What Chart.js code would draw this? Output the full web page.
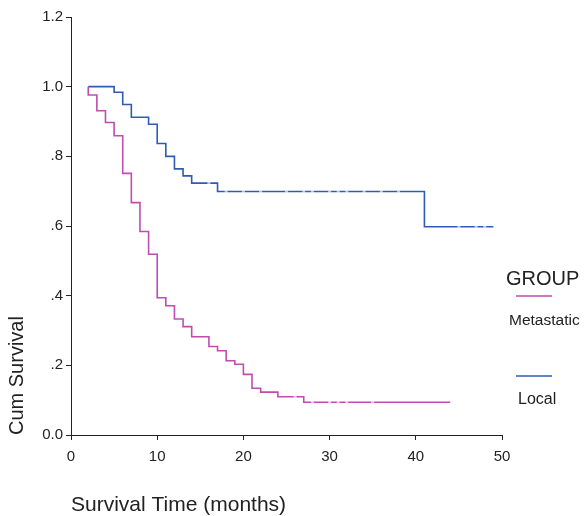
<!DOCTYPE html>
<html>
<head>
<meta charset="utf-8">
<script src="https://cdn.jsdelivr.net/npm/chart.js@4/dist/chart.umd.min.js"></script>
<style>
  html, body { margin: 0; padding: 0; background: #fff; }
  #wrap { width: 587px; height: 516px; }
</style>
</head>
<body>
<div id="wrap"><canvas id="km" width="587" height="516"></canvas></div>
<script>
// Kaplan-Meier estimates by group (time in months, cumulative survival)
const groupTitle = 'GROUP';
const groupLabels = ['Metastatic', 'Local'];
const groupColors = ['#C04DAE', '#2E5CB4'];

const metastaticTimes    = [2, 2, 3, 4, 5, 6, 7, 8, 9, 10, 11, 12, 13, 14, 16, 17, 18, 19, 20, 21, 22, 24, 27, 44];
const metastaticSurvival = [1.0, 0.976, 0.931, 0.897, 0.859, 0.751, 0.667, 0.584, 0.519, 0.394, 0.371, 0.333, 0.311, 0.282, 0.254, 0.242, 0.213, 0.203, 0.174, 0.134, 0.123, 0.110, 0.094, 0.094];
const metastaticCensored = [26, 28, 30, 31, 32, 35];

const localTimes    = [2, 5, 6, 7, 9, 10, 11, 12, 13, 14, 17, 41, 49];
const localSurvival = [1.0, 0.984, 0.949, 0.912, 0.892, 0.837, 0.800, 0.764, 0.744, 0.723, 0.699, 0.598, 0.598];
const localCensored = [16, 18, 20, 22, 25, 27, 28, 30, 31, 32, 34, 36, 38, 45, 47, 48];

const xTickValues = [0, 10, 20, 30, 40, 50];
const yTickValues = [0, 0.2, 0.4, 0.6, 0.8, 1.0, 1.2];
const yTickLabels = ['0.0', '.2', '.4', '.6', '.8', '1.0', '1.2'];

const FONT = '"Liberation Sans", Arial, Helvetica, sans-serif';
const INK = '#222222';

function toPoints(times, values) {
  return times.map((t, i) => ({ x: t, y: values[i] }));
}
// Step value of a curve at time t
function survivalAt(times, values, t) {
  let s = values[0];
  for (let i = 0; i < times.length; i++) if (times[i] <= t) s = values[i];
  return s;
}
function censorPoints(times, values, cens) {
  return cens.map(t => ({ x: t, y: survivalAt(times, values, t) }));
}

const curveStyle = (i) => ({
  borderColor: groupColors[i],
  backgroundColor: groupColors[i],
  borderWidth: 1.6,
  pointRadius: 0,
  stepped: true,
  fill: false,
  showLine: true,
  order: 2
});
const censorStyle = {
  showLine: false,
  pointStyle: 'line',
  pointRadius: 1.5,
  borderColor: 'rgba(255,255,255,0.65)',
  borderWidth: 2.4,
  order: 1
};

// Legend block to the right of the plot: title, then a short line over each label
const groupLegend = {
  id: 'groupLegend',
  afterDraw(chart) {
    const ctx = chart.ctx;
    ctx.save();
    ctx.fillStyle = INK;
    ctx.textBaseline = 'middle';
    ctx.textAlign = 'left';
    ctx.font = '20px ' + FONT;
    ctx.fillText(groupTitle, 506, 279);
    const rows = [
      { lineY: 296, textY: 321, textX: 509, size: 15.5 },
      { lineY: 376, textY: 400, textX: 518, size: 16 }
    ];
    rows.forEach((r, i) => {
      ctx.strokeStyle = groupColors[i];
      ctx.lineWidth = 1.6;
      ctx.beginPath();
      ctx.moveTo(516, r.lineY);
      ctx.lineTo(552, r.lineY);
      ctx.stroke();
      ctx.fillStyle = INK;
      ctx.font = r.size + 'px ' + FONT;
      ctx.fillText(groupLabels[i], r.textX, r.textY);
    });
    ctx.restore();
  }
};

new Chart(document.getElementById('km'), {
  type: 'scatter',
  data: {
    datasets: [
      Object.assign({ label: groupLabels[0], data: toPoints(metastaticTimes, metastaticSurvival) }, curveStyle(0)),
      Object.assign({ label: groupLabels[1], data: toPoints(localTimes, localSurvival) }, curveStyle(1)),
      Object.assign({ label: groupLabels[0] + ' censored', data: censorPoints(metastaticTimes, metastaticSurvival, metastaticCensored) }, censorStyle),
      Object.assign({ label: groupLabels[1] + ' censored', data: censorPoints(localTimes, localSurvival, localCensored) }, censorStyle)
    ]
  },
  options: {
    responsive: false,
    animation: false,
    layout: { padding: { top: 17, right: 85, left: 0, bottom: 0 } },
    plugins: { legend: { display: false }, tooltip: { enabled: false } },
    scales: {
      x: {
        type: 'linear',
        min: 0, max: 50,
        afterBuildTicks: s => { s.ticks = xTickValues.map(v => ({ value: v })); },
        afterFit: s => { s.height = 81; },
        grid: { drawOnChartArea: false, drawTicks: true, tickLength: 5, color: INK, lineWidth: 1 },
        border: { display: true, color: INK, width: 1 },
        ticks: { color: INK, font: { family: FONT, size: 15 }, padding: 8, maxRotation: 0 },
        title: {
          display: true, text: 'Survival Time (months)', align: 'start',
          color: INK, font: { family: FONT, size: 21 }, padding: { top: 0, bottom: -2 }
        }
      },
      y: {
        type: 'linear',
        min: 0, max: 1.2,
        afterBuildTicks: s => { s.ticks = yTickValues.map(v => ({ value: v })); },
        afterFit: s => { s.width = 71; },
        grid: { drawOnChartArea: false, drawTicks: true, tickLength: 5, color: INK, lineWidth: 1 },
        border: { display: true, color: INK, width: 1 },
        ticks: {
          color: INK, font: { family: FONT, size: 15 }, padding: 3,
          callback: (v, i) => yTickLabels[i]
        },
        title: {
          display: true, text: 'Cum Survival', align: 'start',
          color: INK, font: { family: FONT, size: 20 }, padding: { top: 5, bottom: 0 }
        }
      }
    }
  },
  plugins: [groupLegend]
});
</script>
</body>
</html>
